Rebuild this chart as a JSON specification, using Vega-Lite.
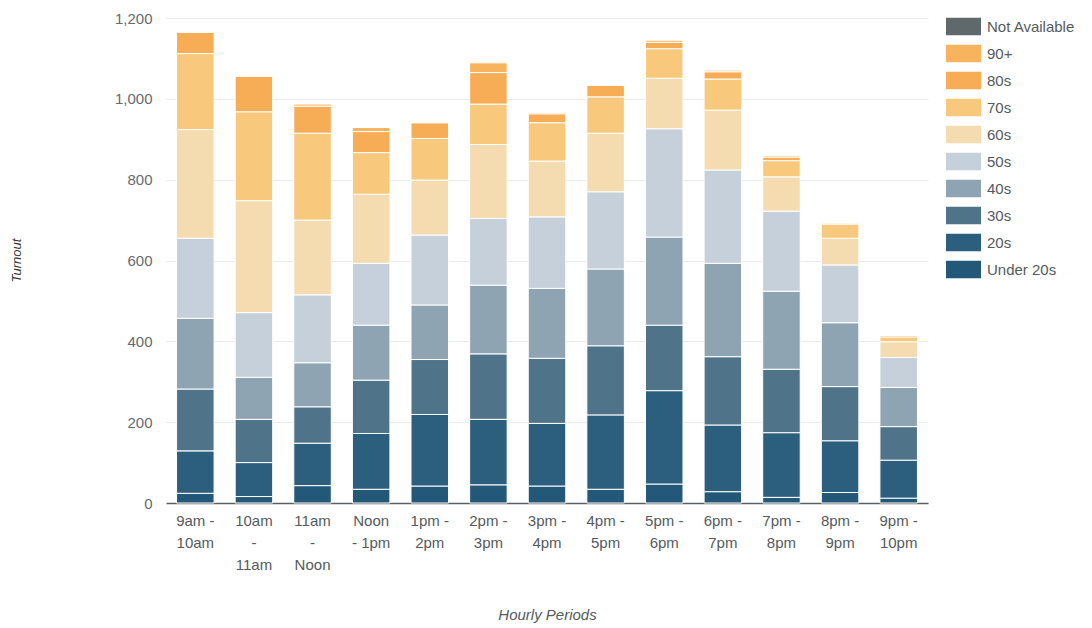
{
  "$schema": "https://vega.github.io/schema/vega-lite/v6.json",
  "width": 762,
  "height": 485,
  "autosize": {"type": "none"},
  "padding": {"left": 166, "top": 18, "right": 164, "bottom": 125},
  "background": "white",
  "config": {"view": {"stroke": null}, "font": "Liberation Sans"},
  "data": {
    "values": [
      {"period": "9am - 10am", "age": "Under 20s", "rank": 1, "turnout": 24},
      {"period": "9am - 10am", "age": "20s", "rank": 2, "turnout": 105},
      {"period": "9am - 10am", "age": "30s", "rank": 3, "turnout": 153},
      {"period": "9am - 10am", "age": "40s", "rank": 4, "turnout": 175},
      {"period": "9am - 10am", "age": "50s", "rank": 5, "turnout": 198},
      {"period": "9am - 10am", "age": "60s", "rank": 6, "turnout": 269},
      {"period": "9am - 10am", "age": "70s", "rank": 7, "turnout": 188},
      {"period": "9am - 10am", "age": "80s", "rank": 8, "turnout": 53},
      {"period": "9am - 10am", "age": "90+", "rank": 9, "turnout": 0},

      {"period": "10am - 11am", "age": "Under 20s", "rank": 1, "turnout": 16},
      {"period": "10am - 11am", "age": "20s", "rank": 2, "turnout": 84},
      {"period": "10am - 11am", "age": "30s", "rank": 3, "turnout": 107},
      {"period": "10am - 11am", "age": "40s", "rank": 4, "turnout": 104},
      {"period": "10am - 11am", "age": "50s", "rank": 5, "turnout": 160},
      {"period": "10am - 11am", "age": "60s", "rank": 6, "turnout": 277},
      {"period": "10am - 11am", "age": "70s", "rank": 7, "turnout": 220},
      {"period": "10am - 11am", "age": "80s", "rank": 8, "turnout": 88},
      {"period": "10am - 11am", "age": "90+", "rank": 9, "turnout": 0},

      {"period": "11am - Noon", "age": "Under 20s", "rank": 1, "turnout": 43},
      {"period": "11am - Noon", "age": "20s", "rank": 2, "turnout": 105},
      {"period": "11am - Noon", "age": "30s", "rank": 3, "turnout": 90},
      {"period": "11am - Noon", "age": "40s", "rank": 4, "turnout": 109},
      {"period": "11am - Noon", "age": "50s", "rank": 5, "turnout": 168},
      {"period": "11am - Noon", "age": "60s", "rank": 6, "turnout": 185},
      {"period": "11am - Noon", "age": "70s", "rank": 7, "turnout": 215},
      {"period": "11am - Noon", "age": "80s", "rank": 8, "turnout": 67},
      {"period": "11am - Noon", "age": "90+", "rank": 9, "turnout": 5},

      {"period": "Noon - 1pm", "age": "Under 20s", "rank": 1, "turnout": 34},
      {"period": "Noon - 1pm", "age": "20s", "rank": 2, "turnout": 138},
      {"period": "Noon - 1pm", "age": "30s", "rank": 3, "turnout": 132},
      {"period": "Noon - 1pm", "age": "40s", "rank": 4, "turnout": 136},
      {"period": "Noon - 1pm", "age": "50s", "rank": 5, "turnout": 153},
      {"period": "Noon - 1pm", "age": "60s", "rank": 6, "turnout": 171},
      {"period": "Noon - 1pm", "age": "70s", "rank": 7, "turnout": 103},
      {"period": "Noon - 1pm", "age": "80s", "rank": 8, "turnout": 52},
      {"period": "Noon - 1pm", "age": "90+", "rank": 9, "turnout": 10},

      {"period": "1pm - 2pm", "age": "Under 20s", "rank": 1, "turnout": 42},
      {"period": "1pm - 2pm", "age": "20s", "rank": 2, "turnout": 177},
      {"period": "1pm - 2pm", "age": "30s", "rank": 3, "turnout": 136},
      {"period": "1pm - 2pm", "age": "40s", "rank": 4, "turnout": 135},
      {"period": "1pm - 2pm", "age": "50s", "rank": 5, "turnout": 173},
      {"period": "1pm - 2pm", "age": "60s", "rank": 6, "turnout": 136},
      {"period": "1pm - 2pm", "age": "70s", "rank": 7, "turnout": 103},
      {"period": "1pm - 2pm", "age": "80s", "rank": 8, "turnout": 39},
      {"period": "1pm - 2pm", "age": "90+", "rank": 9, "turnout": 0},

      {"period": "2pm - 3pm", "age": "Under 20s", "rank": 1, "turnout": 45},
      {"period": "2pm - 3pm", "age": "20s", "rank": 2, "turnout": 162},
      {"period": "2pm - 3pm", "age": "30s", "rank": 3, "turnout": 162},
      {"period": "2pm - 3pm", "age": "40s", "rank": 4, "turnout": 170},
      {"period": "2pm - 3pm", "age": "50s", "rank": 5, "turnout": 165},
      {"period": "2pm - 3pm", "age": "60s", "rank": 6, "turnout": 183},
      {"period": "2pm - 3pm", "age": "70s", "rank": 7, "turnout": 100},
      {"period": "2pm - 3pm", "age": "80s", "rank": 8, "turnout": 78},
      {"period": "2pm - 3pm", "age": "90+", "rank": 9, "turnout": 24},

      {"period": "3pm - 4pm", "age": "Under 20s", "rank": 1, "turnout": 42},
      {"period": "3pm - 4pm", "age": "20s", "rank": 2, "turnout": 155},
      {"period": "3pm - 4pm", "age": "30s", "rank": 3, "turnout": 161},
      {"period": "3pm - 4pm", "age": "40s", "rank": 4, "turnout": 173},
      {"period": "3pm - 4pm", "age": "50s", "rank": 5, "turnout": 177},
      {"period": "3pm - 4pm", "age": "60s", "rank": 6, "turnout": 138},
      {"period": "3pm - 4pm", "age": "70s", "rank": 7, "turnout": 95},
      {"period": "3pm - 4pm", "age": "80s", "rank": 8, "turnout": 22},
      {"period": "3pm - 4pm", "age": "90+", "rank": 9, "turnout": 3},

      {"period": "4pm - 5pm", "age": "Under 20s", "rank": 1, "turnout": 34},
      {"period": "4pm - 5pm", "age": "20s", "rank": 2, "turnout": 184},
      {"period": "4pm - 5pm", "age": "30s", "rank": 3, "turnout": 171},
      {"period": "4pm - 5pm", "age": "40s", "rank": 4, "turnout": 190},
      {"period": "4pm - 5pm", "age": "50s", "rank": 5, "turnout": 191},
      {"period": "4pm - 5pm", "age": "60s", "rank": 6, "turnout": 145},
      {"period": "4pm - 5pm", "age": "70s", "rank": 7, "turnout": 90},
      {"period": "4pm - 5pm", "age": "80s", "rank": 8, "turnout": 29},
      {"period": "4pm - 5pm", "age": "90+", "rank": 9, "turnout": 0},

      {"period": "5pm - 6pm", "age": "Under 20s", "rank": 1, "turnout": 47},
      {"period": "5pm - 6pm", "age": "20s", "rank": 2, "turnout": 231},
      {"period": "5pm - 6pm", "age": "30s", "rank": 3, "turnout": 162},
      {"period": "5pm - 6pm", "age": "40s", "rank": 4, "turnout": 218},
      {"period": "5pm - 6pm", "age": "50s", "rank": 5, "turnout": 268},
      {"period": "5pm - 6pm", "age": "60s", "rank": 6, "turnout": 125},
      {"period": "5pm - 6pm", "age": "70s", "rank": 7, "turnout": 73},
      {"period": "5pm - 6pm", "age": "80s", "rank": 8, "turnout": 16},
      {"period": "5pm - 6pm", "age": "90+", "rank": 9, "turnout": 5},

      {"period": "6pm - 7pm", "age": "Under 20s", "rank": 1, "turnout": 28},
      {"period": "6pm - 7pm", "age": "20s", "rank": 2, "turnout": 165},
      {"period": "6pm - 7pm", "age": "30s", "rank": 3, "turnout": 169},
      {"period": "6pm - 7pm", "age": "40s", "rank": 4, "turnout": 231},
      {"period": "6pm - 7pm", "age": "50s", "rank": 5, "turnout": 231},
      {"period": "6pm - 7pm", "age": "60s", "rank": 6, "turnout": 148},
      {"period": "6pm - 7pm", "age": "70s", "rank": 7, "turnout": 77},
      {"period": "6pm - 7pm", "age": "80s", "rank": 8, "turnout": 18},
      {"period": "6pm - 7pm", "age": "90+", "rank": 9, "turnout": 4},

      {"period": "7pm - 8pm", "age": "Under 20s", "rank": 1, "turnout": 14},
      {"period": "7pm - 8pm", "age": "20s", "rank": 2, "turnout": 160},
      {"period": "7pm - 8pm", "age": "30s", "rank": 3, "turnout": 157},
      {"period": "7pm - 8pm", "age": "40s", "rank": 4, "turnout": 193},
      {"period": "7pm - 8pm", "age": "50s", "rank": 5, "turnout": 198},
      {"period": "7pm - 8pm", "age": "60s", "rank": 6, "turnout": 85},
      {"period": "7pm - 8pm", "age": "70s", "rank": 7, "turnout": 40},
      {"period": "7pm - 8pm", "age": "80s", "rank": 8, "turnout": 9},
      {"period": "7pm - 8pm", "age": "90+", "rank": 9, "turnout": 3},

      {"period": "8pm - 9pm", "age": "Under 20s", "rank": 1, "turnout": 26},
      {"period": "8pm - 9pm", "age": "20s", "rank": 2, "turnout": 128},
      {"period": "8pm - 9pm", "age": "30s", "rank": 3, "turnout": 134},
      {"period": "8pm - 9pm", "age": "40s", "rank": 4, "turnout": 158},
      {"period": "8pm - 9pm", "age": "50s", "rank": 5, "turnout": 143},
      {"period": "8pm - 9pm", "age": "60s", "rank": 6, "turnout": 66},
      {"period": "8pm - 9pm", "age": "70s", "rank": 7, "turnout": 35},
      {"period": "8pm - 9pm", "age": "80s", "rank": 8, "turnout": 3},
      {"period": "8pm - 9pm", "age": "90+", "rank": 9, "turnout": 0},

      {"period": "9pm - 10pm", "age": "Under 20s", "rank": 1, "turnout": 12},
      {"period": "9pm - 10pm", "age": "20s", "rank": 2, "turnout": 94},
      {"period": "9pm - 10pm", "age": "30s", "rank": 3, "turnout": 83},
      {"period": "9pm - 10pm", "age": "40s", "rank": 4, "turnout": 97},
      {"period": "9pm - 10pm", "age": "50s", "rank": 5, "turnout": 74},
      {"period": "9pm - 10pm", "age": "60s", "rank": 6, "turnout": 39},
      {"period": "9pm - 10pm", "age": "70s", "rank": 7, "turnout": 12},
      {"period": "9pm - 10pm", "age": "80s", "rank": 8, "turnout": 4},
      {"period": "9pm - 10pm", "age": "90+", "rank": 9, "turnout": 0}
    ]
  },
  "mark": {"type": "bar", "stroke": "white", "strokeWidth": 1},
  "encoding": {
    "x": {
      "field": "period",
      "type": "nominal",
      "sort": null,
      "scale": {"paddingInner": 0.36, "paddingOuter": 0.18},
      "axis": {
        "title": "Hourly Periods",
        "titleFontStyle": "italic",
        "titleFontWeight": "normal",
        "titleFontSize": 15,
        "titleColor": "#555a5e",
        "titleBaseline": "middle",
        "titleY": 111,
        "labelAngle": 0,
        "labelFontSize": 15,
        "labelColor": "#555a5e",
        "labelPadding": 10,
        "labelLineHeight": 22,
        "labelExpr": "datum.value == '10am - 11am' ? ['10am', '-', '11am'] : datum.value == '11am - Noon' ? ['11am', '-', 'Noon'] : datum.value == 'Noon - 1pm' ? ['Noon', '- 1pm'] : [split(datum.value, ' - ')[0] + ' -', split(datum.value, ' - ')[1]]",
        "ticks": false,
        "domainColor": "#5a5f63",
        "domainWidth": 1.5,
        "grid": false
      }
    },
    "y": {
      "field": "turnout",
      "type": "quantitative",
      "stack": "zero",
      "scale": {"domain": [0, 1200], "nice": false},
      "axis": {
        "title": "Turnout",
        "titleFontStyle": "italic",
        "titleFontWeight": "normal",
        "titleFontSize": 13,
        "titleColor": "#333333",
        "titleX": -143,
        "titleY": 242,
        "values": [0, 200, 400, 600, 800, 1000, 1200],
        "format": ",.0f",
        "labelFontSize": 15,
        "labelColor": "#666a6e",
        "labelPadding": 14,
        "ticks": false,
        "tickSize": 0,
        "domain": false,
        "gridColor": "#ebebeb",
        "gridWidth": 1
      }
    },
    "color": {
      "field": "age",
      "type": "nominal",
      "scale": {
        "domain": ["Not Available", "90+", "80s", "70s", "60s", "50s", "40s", "30s", "20s", "Under 20s"],
        "range": ["#5f686b", "#f8b35e", "#f7ad55", "#f8c87d", "#f5dcb0", "#c5d0da", "#8fa4b3", "#4f7489", "#2c5f7d", "#235878"]
      },
      "legend": {
        "orient": "none",
        "legendX": 780,
        "legendY": -9,
        "title": null,
        "symbolType": "M-1,-0.5H1V0.5H-1Z",
        "symbolSize": 1225,
        "symbolStrokeWidth": 0,
        "symbolOpacity": 1,
        "labelFontSize": 15,
        "labelColor": "#555a5e",
        "labelOffset": 6,
        "rowPadding": 0
      }
    },
    "order": {"field": "rank", "type": "quantitative"}
  }
}
